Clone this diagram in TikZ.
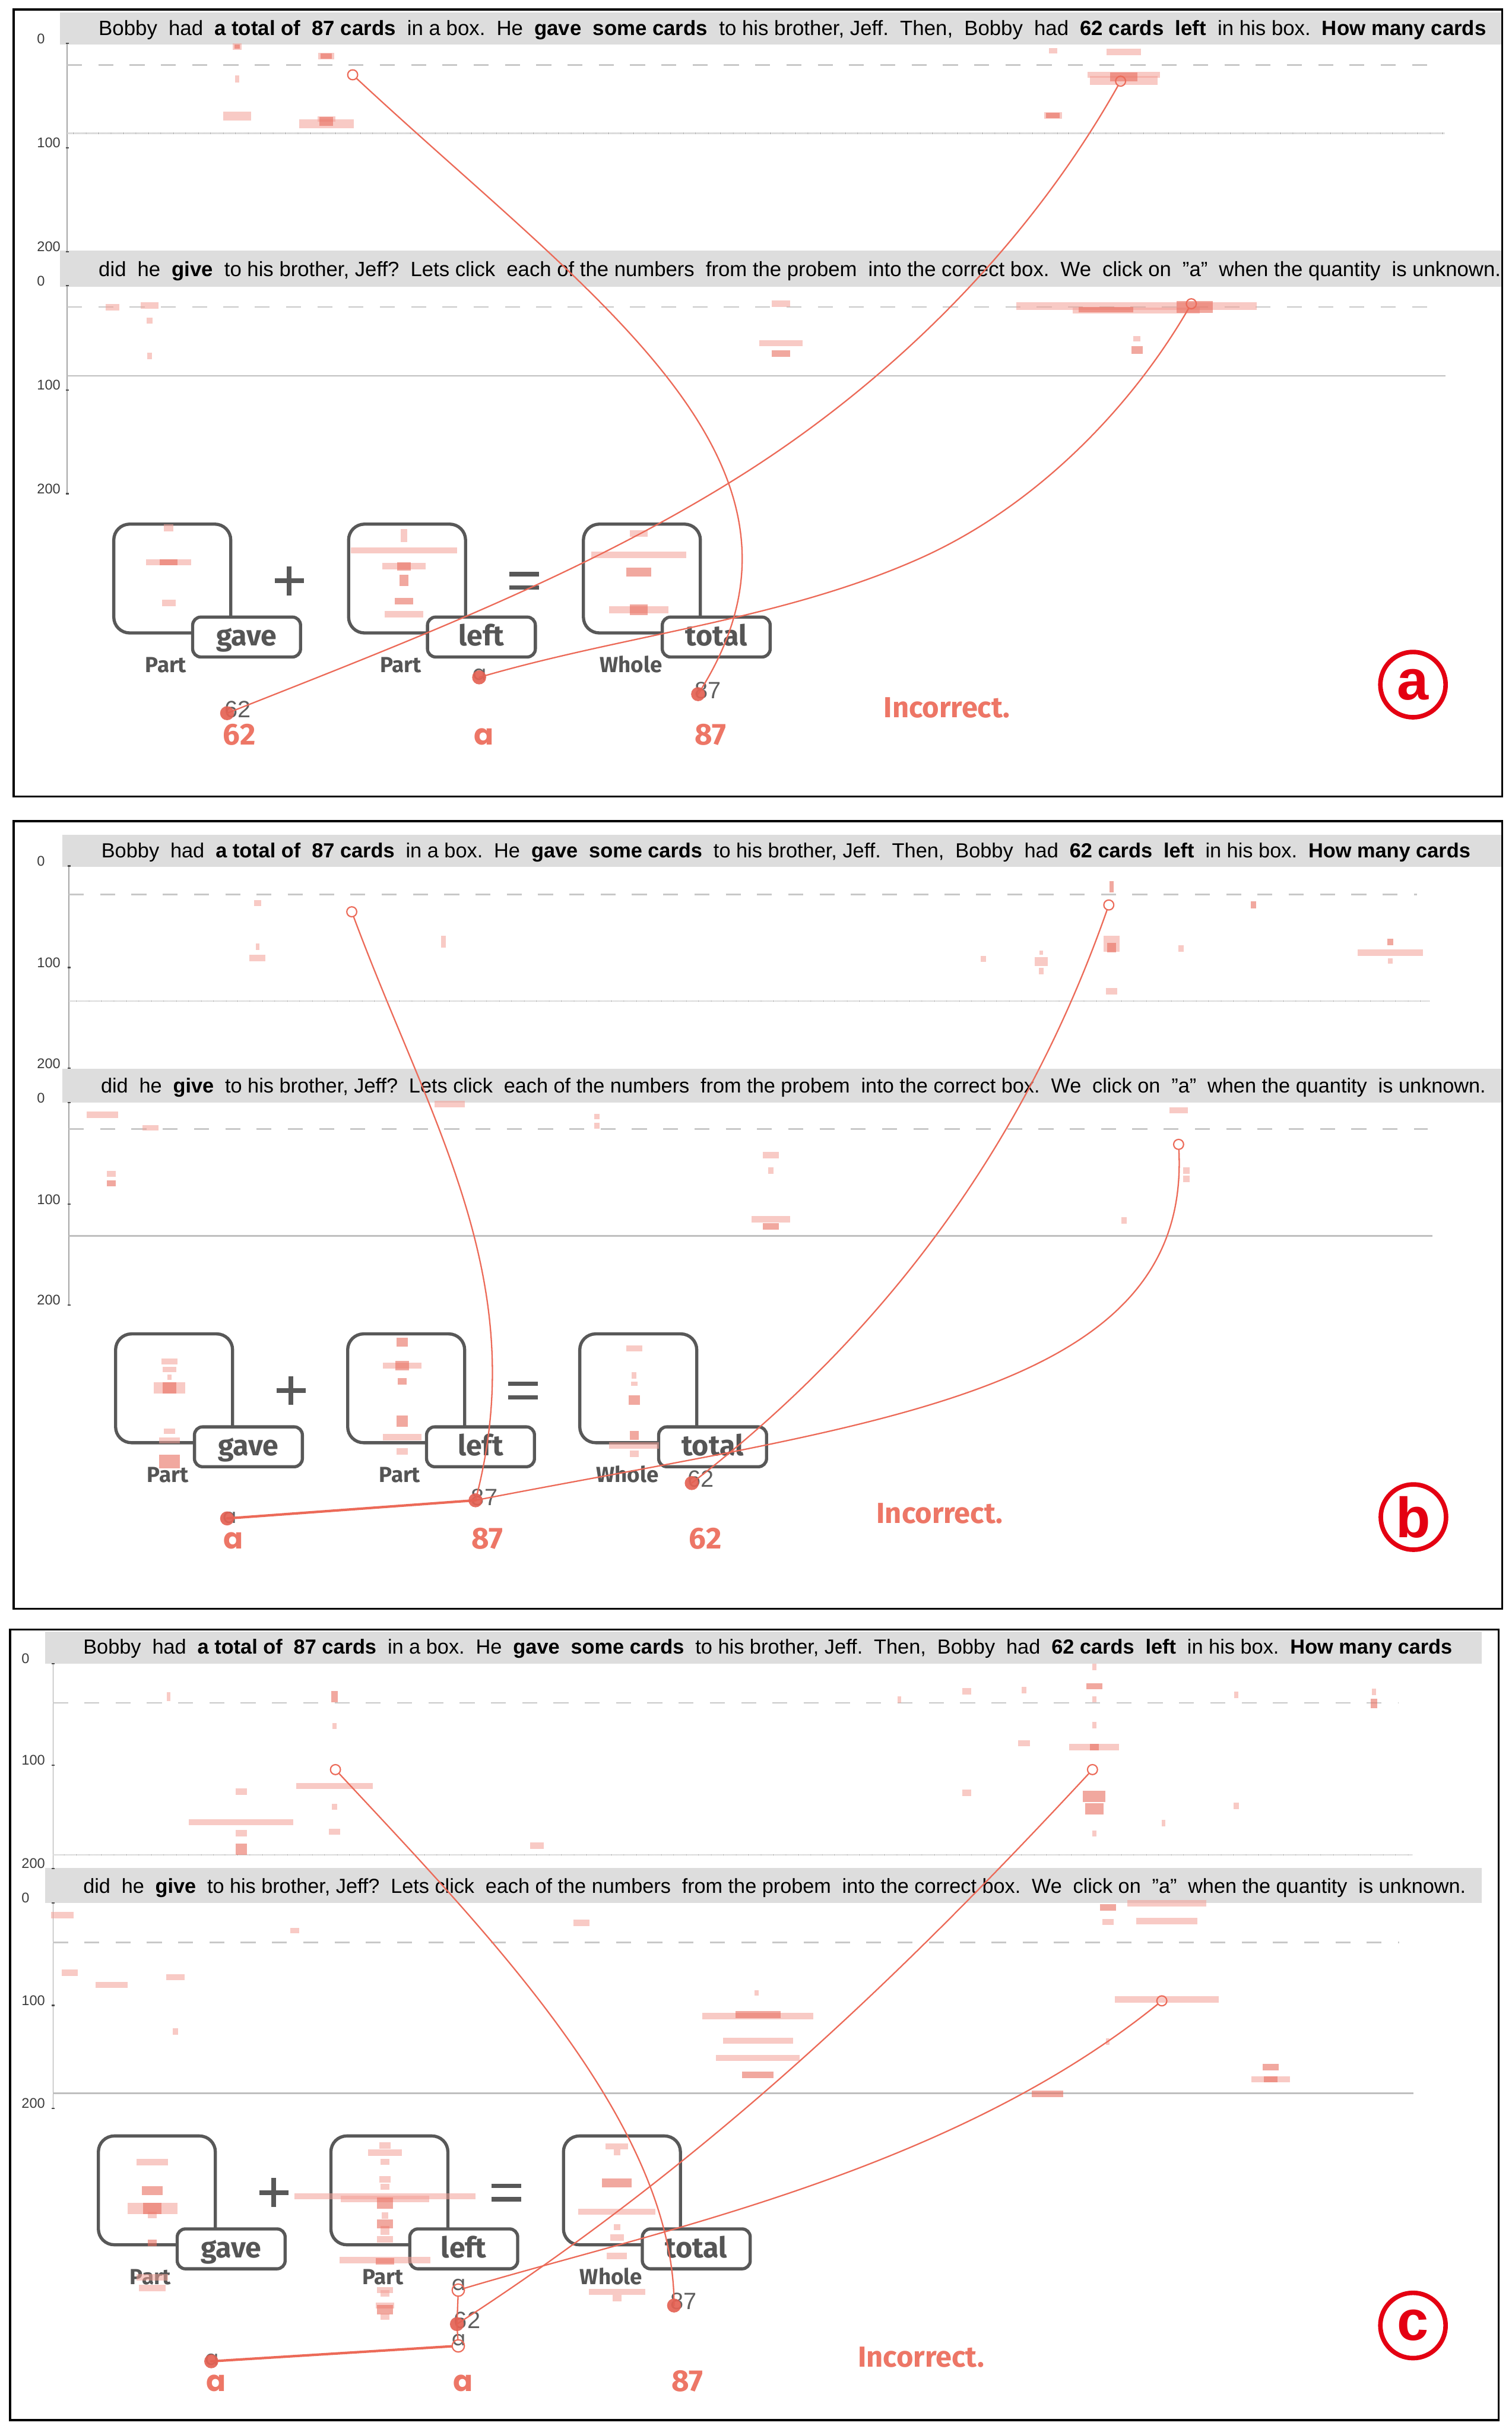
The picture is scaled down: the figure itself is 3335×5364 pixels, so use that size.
\documentclass[tikz,border=0pt]{standalone}
\usepackage{fontspec}
\setmainfont{Liberation Sans}
\newfontfamily\firafont{Fira Sans}
\newfontfamily\popfont{Poppins}
\usepackage{graphicx}
\newcommand{\fsz}[1]{\fontsize{#1pt}{#1pt}\selectfont}
\newcommand{\gp}{\hspace{0.55em}}
\newcommand{\sentA}{Bobby\gp had\gp \textbf{a total of}\gp \textbf{87 cards}\gp in a box.\gp He\gp \textbf{gave}\gp \textbf{some cards}\gp to his brother, Jeff.\gp Then,\gp Bobby\gp had\gp \textbf{62 cards}\gp \textbf{left}\gp in his box.\gp \textbf{How many cards}}
\newcommand{\sentB}{did\gp he\gp \textbf{give}\gp to his brother, Jeff?\gp Lets click\gp each of the numbers\gp from the probem\gp into the correct box.\gp We\gp click on\gp "a"\gp when the quantity\gp is unknown.}
\definecolor{conn}{RGB}{236,106,88}
\definecolor{dotc}{RGB}{228,98,84}
\definecolor{lbred}{RGB}{237,118,102}
\definecolor{hmlight}{RGB}{243,160,150}
\definecolor{hmdark}{RGB}{232,110,95}
\definecolor{barg}{RGB}{221,221,221}
\definecolor{boxg}{RGB}{88,88,88}
\definecolor{lblg}{RGB}{85,85,85}
\definecolor{smg}{RGB}{95,95,95}
\definecolor{axg}{RGB}{60,60,60}
\definecolor{dashg}{RGB}{200,200,200}
\definecolor{circred}{RGB}{228,0,18}
\newcommand{\hm}[4]{\fill[hml] ({#1-(#3)/2},{#2-(#4)/2}) rectangle ({#1+(#3)/2},{#2+(#4)/2});}
\newcommand{\hd}[4]{\fill[hmd] ({#1-(#3)/2},{#2-(#4)/2}) rectangle ({#1+(#3)/2},{#2+(#4)/2});}
% axis: prefix, x, t0, t100, t200, label left x
\newcommand{\yaxis}[6]{%
  \draw[axisline] (#2,#3) -- (#2,#5);
  \foreach \tk in {#3,#4,#5} {\draw[tickline] ({#2-3},\tk) -- ({#2+4},\tk);}
  \node[axlbl] (#1-l0) at (#6,#3) {0};
  \node[axlbl] (#1-l100) at (#6,#4) {100};
  \node[axlbl] (#1-l200) at (#6,#5) {200};
}
% boxes: prefix, x0, y0, dx
\newcommand{\ppboxes}[4]{%
  \node[mainboxn] (#1-b1) at ({#2+129},{#3+120}) {};
  \node[mainboxn] (#1-b2) at ({#2+#4+129},{#3+120}) {};
  \node[mainboxn] (#1-b3) at ({#2+2*#4+129},{#3+120}) {};
  \node[lblbox] (#1-gave) at ({#2+293},{#3+249}) {gave};
  \node[lblbox] (#1-left) at ({#2+#4+293},{#3+249}) {left};
  \node[lblbox] (#1-total) at ({#2+2*#4+293},{#3+249}) {total};
  \node[partlbl] (#1-p1) at ({#2+115},{#3+327}) {Part};
  \node[partlbl] (#1-p2) at ({#2+#4+115},{#3+327}) {Part};
  \node[partlbl] (#1-wh) at ({#2+2*#4+105},{#3+327}) {Whole};
  \draw[opline] ({#2+387-32},{#3+125}) -- ({#2+387+32},{#3+125});
  \draw[opline] ({#2+387},{#3+93}) -- ({#2+387},{#3+157});
  \draw[opline] ({#2+387+#4-33},{#3+110}) -- ({#2+387+#4+33},{#3+110});
  \draw[opline] ({#2+387+#4-33},{#3+140}) -- ({#2+387+#4+33},{#3+140});
}
\begin{document}
\begin{tikzpicture}[x=0.1mm, y=-0.1mm,
  conn/.style={draw=conn, line width=0.3mm, line cap=round, line join=round},
  connthick/.style={conn, line width=0.55mm},
  odot/.style={circle, draw=conn, line width=0.28mm, minimum size=2.2mm, inner sep=0pt},
  odotb/.style={odot, minimum size=2.7mm},
  fdot/.style={circle, fill=dotc, fill opacity=0.92, minimum size=3.1mm, inner sep=0pt},
  mainboxn/.style={rectangle, draw=boxg, line width=0.7mm, rounded corners=3.5mm, minimum width=25.8mm, minimum height=24mm, inner sep=0pt},
  lblbox/.style={rectangle, draw=boxg, line width=0.7mm, rounded corners=1.8mm, fill=white, minimum width=23.8mm, minimum height=8.8mm, inner sep=0pt, text=lblg, font=\firafont\bfseries\fsz{18}, text height=5.4mm, text depth=1.5mm},
  partlbl/.style={anchor=base, inner sep=0pt, text=lblg, font=\firafont\bfseries\fsz{13.7}},
  opline/.style={draw=boxg, line width=1mm},
  axisline/.style={draw=black!35, line width=0.15mm},
  tickline/.style={draw=black!70, line width=0.3mm},
  axlbl/.style={anchor=base west, inner sep=0pt, text=axg, font=\fsz{8.8}},
  dashl/.style={draw=dashg, line width=0.35mm, dash pattern=on 3.3mm off 3.6mm},
  dotl/.style={draw=black!28, line width=0.3mm, dash pattern=on 0.1mm off 0.15mm},
  solidl/.style={draw=black!25, line width=0.35mm},
  bar/.style={fill=barg},
  border/.style={draw=black, line width=0.45mm},
  sent/.style={anchor=base west, inner sep=0pt},
  smn/.style={anchor=base west, inner sep=0pt, text=smg, font=\fsz{14.8}},
  sma/.style={anchor=base, inner sep=0pt, text=smg, font=\popfont\fsz{12.8}},
  redn/.style={anchor=base, inner sep=0pt, text=lbred, font=\firafont\bfseries\fsz{19}},
  reda/.style={anchor=base, inner sep=0pt, text=lbred, font=\popfont\bfseries\fsz{18.2}},
  incn/.style={anchor=base west, inner sep=0pt, text=lbred, font=\firafont\bfseries\fsz{18.2}},
  circn/.style={circle, draw=circred, line width=1mm, minimum size=14.4mm, inner sep=0pt, text=circred, font=\bfseries\fsz{35.6}},
  hml/.style={fill=hmlight, fill opacity=0.55},
  hmd/.style={fill=hmdark, fill opacity=0.6}
]
\fill[white] (0,0) rectangle (3335,5364);
\useasboundingbox (0,0) rectangle (3335,5364);

%================ PANEL A ================
\draw[border] (30,21) rectangle (3314,1757);
\fill[bar] (132,27) rectangle (3312,98);
\fill[bar] (132,553) rectangle (3312,632);
\node[sent] (a-t1) at (217,78) {\resizebox{306.1mm}{!}{\fsz{13.4}\sentA}};
\node[sent] (a-t2) at (217,610) {\resizebox{309.3mm}{!}{\fsz{13.4}\sentB}};
\yaxis{a1}{148}{96}{326}{555}{81}
\yaxis{a2}{148}{630}{860}{1089}{81}
\draw[dashl] (148,143) -- (3154,143);
\draw[dotl] (148,294) -- (3187,294);
\draw[dashl] (148,677) -- (3154,677);
\draw[solidl] (148,829) -- (3189,829);
\ppboxes{a}{251}{1156}{518}
\foreach \hx/\hy/\hw/\hh in {523/103/20/15, 720/124/35/15, 523/174/10/15, 523/256/62/20, 720/263/40/12, 720/273/120/20, 2323/112/18/13, 2479/115/77/14, 2479/165/160/14, 2479/177/150/20, 2323/255/40/15, 248/678/30/14, 330/674/38/14, 330/707/12/14, 330/785/10/14, 1723/670/40/14, 1723/757/95/14, 2507/675/530/16, 2507/685/280/14, 2508/747/15/12, 372/1164/20/16, 372/1240/100/14, 372/1330/30/14, 891/1181/15/28, 891/1214/235/14, 891/1249/95/14, 891/1355/85/14, 1409/1177/40/14, 1409/1224/210/14, 1409/1345/130/16}{\hm{\hx}{\hy}{\hw}{\hh}}
\foreach \hx/\hy/\hw/\hh in {523/103/12/10, 720/124/25/12, 720/268/30/20, 2479/170/60/20, 2323/255/30/12, 1723/780/40/14, 2636/677/80/26, 2440/683/120/12, 2508/772/25/16, 372/1240/40/14, 891/1249/30/18, 891/1280/20/24, 891/1326/40/14, 1409/1262/55/20, 1409/1345/40/24}{\hd{\hx}{\hy}{\hw}{\hh}}
\node[smn] (a-s62) at (495,1583) {62};
\node[sma] (a-sa) at (1058,1500) {a};
\node[smn] (a-s87) at (1532,1541) {87};
\node[redn] (a-r62) at (528,1643) {62};
\node[reda] (a-ra) at (1067,1643) {a};
\node[redn] (a-r87) at (1568,1643) {87};
\node[incn] (a-inc) at (1949,1583) {Incorrect.};
\node[circn] (a-tag) at (3117,1510) {a};
\node[odot] (a-o1) at (778,165) {};
\node[odot] (a-o2) at (2472,179) {};
\node[odot] (a-o3) at (2628,670) {};
\coordinate (a-d62) at (501,1573);
\coordinate (a-da) at (1057,1494);
\coordinate (a-d87) at (1540,1531);
\draw[conn] (a-o1) .. controls (1318,667) and (1864,1027) .. (a-d87);
\draw[conn] (a-o2) .. controls (2276,527) and (1987,823) .. (1650,1039) .. controls (1296,1265) and (892,1418) .. (a-d62);
\draw[conn] (a-o3) .. controls (2490,908) and (2277,1122) .. (2026,1233) .. controls (1721,1368) and (1378,1400) .. (a-da);
\node[fdot] (a-d62n) at (a-d62) {};
\node[fdot] (a-dan) at (a-da) {};
\node[fdot] (a-d87n) at (a-d87) {};

%================ PANEL B ================
\draw[border] (30,1811) rectangle (3314,3548);
\fill[bar] (138,1841) rectangle (3312,1912);
\fill[bar] (138,2357) rectangle (3312,2432);
\node[sent] (b-t1) at (223,1891) {\resizebox{302.0mm}{!}{\fsz{13.4}\sentA}};
\node[sent] (b-t2) at (222,2410) {\resizebox{305.5mm}{!}{\fsz{13.4}\sentB}};
\yaxis{b1}{152}{1910}{2134}{2356}{81}
\yaxis{b2}{152}{2432}{2656}{2878}{81}
\draw[dashl] (152,1973) -- (3126,1973);
\draw[dotl] (152,2208) -- (3154,2208);
\draw[dashl] (152,2490) -- (3150,2490);
\draw[solidl] (152,2726) -- (3160,2726);
\ppboxes{b}{255}{2942}{512}
\foreach \hx/\hy/\hw/\hh in {568/1992/16/14, 568/2088/8/14, 568/2113/35/14, 978/2077/10/25, 2169/2115/12/14, 2297/2121/30/20, 2297/2142/10/14, 2297/2101/8/10, 2452/2082/35/35, 2605/2092/12/14, 2452/2186/25/14, 3067/2101/145/14, 3067/2119/10/12, 226/2459/70/14, 332/2487/35/12, 246/2589/20/14, 992/2435/68/14, 1317/2463/12/12, 1317/2483/12/12, 1700/2548/35/14, 1700/2582/12/14, 1700/2689/85/14, 2600/2449/40/14, 2617/2582/15/14, 2617/2600/15/14, 2480/2692/12/14, 374/3003/35/14, 374/3021/30/12, 374/3038/10/12, 374/3061/70/25, 374/3157/25/12, 374/3177/45/14, 887/3012/85/14, 887/3170/85/14, 887/3201/25/14, 1399/2974/35/12, 1399/3034/10/14, 1399/3052/15/10, 1399/3188/110/14, 1399/3206/20/14}{\hm{\hx}{\hy}{\hw}{\hh}}
\foreach \hx/\hy/\hw/\hh in {2452/1956/10/25, 2765/1996/12/15, 2452/2090/20/20, 3067/2078/12/14, 246/2610/20/14, 1700/2705/35/14, 374/3061/30/25, 374/3224/45/30, 887/2960/25/20, 887/3012/30/20, 887/3047/20/14, 887/3134/25/25, 1399/3088/25/20, 1399/3166/20/20}{\hd{\hx}{\hy}{\hw}{\hh}}
\node[sma] (b-sa) at (507,3360) {a};
\node[smn] (b-s87) at (1039,3320) {87};
\node[smn] (b-s62) at (1516,3280) {62};
\node[reda] (b-ra) at (515,3416) {a};
\node[redn] (b-r87) at (1075,3416) {87};
\node[redn] (b-r62) at (1556,3416) {62};
\node[incn] (b-inc) at (1933,3360) {Incorrect.};
\node[circn] (b-tag) at (3118,3346) {b};
\node[odot] (b-o1) at (776,2011) {};
\node[odot] (b-o2) at (2446,1996) {};
\node[odot] (b-o3) at (2600,2524) {};
\coordinate (b-da) at (501,3349);
\coordinate (b-d87) at (1049,3309);
\coordinate (b-d62) at (1526,3271);
\draw[conn] (b-o1) .. controls (951,2481) and (1176,2826) .. (b-d87);
\draw[conn] (b-o2) .. controls (2248,2560) and (1921,2966) .. (b-d62);
\draw[conn] (b-o3) .. controls (2627,3074) and (1931,3138) .. (b-d87);
\draw[connthick] (b-d87) -- (b-da);
\node[fdot] (b-dan) at (b-da) {};
\node[fdot] (b-d87n) at (b-d87) {};
\node[fdot] (b-d62n) at (b-d62) {};

%================ PANEL C ================
\draw[border] (22,3594) rectangle (3306,5338);
\fill[bar] (100,3598) rectangle (3269,3669);
\fill[bar] (100,4120) rectangle (3269,4197);
\node[sent] (c-t1) at (183,3648) {\resizebox{302.0mm}{!}{\fsz{13.4}\sentA}};
\node[sent] (c-t2) at (183,4175) {\resizebox{305.0mm}{!}{\fsz{13.4}\sentB}};
\yaxis{c1}{117}{3669}{3893}{4121}{47}
\yaxis{c2}{117}{4197}{4423}{4650}{47}
\draw[dashl] (117,3756) -- (3084,3756);
\draw[dotl] (117,4091) -- (3116,4091);
\draw[dashl] (117,4284) -- (3086,4284);
\draw[solidl] (117,4617) -- (3118,4617);
\ppboxes{c}{217}{4711}{513}
\foreach \hx/\hy/\hw/\hh in {372/3742/8/20, 738/3807/8/14, 532/3952/25/14, 738/3939/170/14, 738/3985/12/14, 532/4019/230/14, 532/4043/25/14, 738/4040/25/14, 1185/4071/30/14, 1984/3749/8/14, 2133/3730/20/14, 2259/3728/10/14, 2414/3677/10/14, 2414/3748/10/14, 2414/3805/10/14, 2259/3845/25/14, 2414/3853/110/14, 2133/3954/20/14, 2567/4021/8/14, 2414/4044/10/14, 2727/3738/10/14, 2727/3983/12/14, 3031/3732/10/14, 137/4224/50/14, 154/4351/35/14, 246/4378/70/14, 387/4361/40/14, 387/4481/12/14, 650/4258/20/12, 1283/4241/35/14, 1669/4395/10/12, 1672/4447/245/14, 1672/4501/155/14, 1672/4539/185/14, 2444/4239/25/14, 2574/4198/175/14, 2574/4237/135/14, 2574/4410/230/14, 2444/4503/8/14, 2803/4586/85/14, 336/4769/70/14, 336/4871/110/25, 336/4885/20/14, 336/5023/70/14, 336/5046/60/14, 849/4732/25/14, 849/4748/75/14, 849/4768/20/14, 849/4807/25/14, 849/4823/20/12, 849/4844/400/14, 849/4850/195/14, 849/4887/15/14, 849/4919/20/20, 849/4939/35/14, 849/4985/200/14, 849/5051/35/14, 849/5058/20/14, 849/5085/40/14, 849/5110/20/14, 1361/4734/50/14, 1361/4747/15/14, 1361/4878/170/14, 1361/4912/15/14, 1361/4935/30/14, 1361/4976/45/14, 1361/5055/125/14, 1361/5069/20/14}{\hm{\hx}{\hy}{\hw}{\hh}}
\foreach \hx/\hy/\hw/\hh in {738/3742/15/25, 532/4079/25/25, 2414/3719/35/14, 2414/3853/20/14, 2414/3962/50/25, 2414/3990/40/25, 3031/3757/15/20, 1672/4443/100/16, 1672/4576/70/14, 2311/4618/70/14, 2444/4207/35/14, 2803/4559/35/14, 2803/4586/30/14, 336/4832/45/20, 336/4871/40/25, 336/4947/20/14, 849/4859/35/25, 849/4905/35/20, 849/4987/40/14, 849/5094/35/20, 1361/4815/65/20}{\hd{\hx}{\hy}{\hw}{\hh}}
\node[sma] (c-sa1) at (1013,5051) {a};
\node[smn] (c-s62) at (1001,5135) {62};
\node[sma] (c-sa2) at (1013,5174) {a};
\node[smn] (c-s87) at (1478,5094) {87};
\node[sma] (c-sa3) at (468,5217) {a};
\node[reda] (c-ra1) at (477,5274) {a};
\node[reda] (c-ra2) at (1022,5274) {a};
\node[redn] (c-r87) at (1516,5274) {87};
\node[incn] (c-inc) at (1892,5220) {Incorrect.};
\node[circn] (c-tag) at (3117,5129) {c};
\node[odot] (c-o1) at (740,3903) {};
\node[odot] (c-o2) at (2410,3903) {};
\node[odot] (c-o3) at (2563,4413) {};
\node[odotb] (c-oa1) at (1011,5051) {};
\node[odotb] (c-oa2) at (1011,5174) {};
\coordinate (c-d62) at (1008,5126);
\coordinate (c-d87) at (1487,5085);
\coordinate (c-da) at (466,5208);
\draw[conn] (c-o1) .. controls (1080,4268) and (1487,4685) .. (c-d87);
\draw[conn] (c-o2) .. controls (1986,4360) and (1562,4767) .. (c-d62);
\draw[conn] (c-o3) .. controls (2095,4791) and (1442,4922) .. (c-oa1);
\draw[conn] (c-oa1) -- (c-d62);
\draw[conn] (c-d62) -- (c-oa2);
\draw[connthick] (c-oa2) -- (c-da);
\node[fdot] (c-d62n) at (c-d62) {};
\node[fdot] (c-d87n) at (c-d87) {};
\node[fdot] (c-dan) at (c-da) {};
\end{tikzpicture}
\end{document}
